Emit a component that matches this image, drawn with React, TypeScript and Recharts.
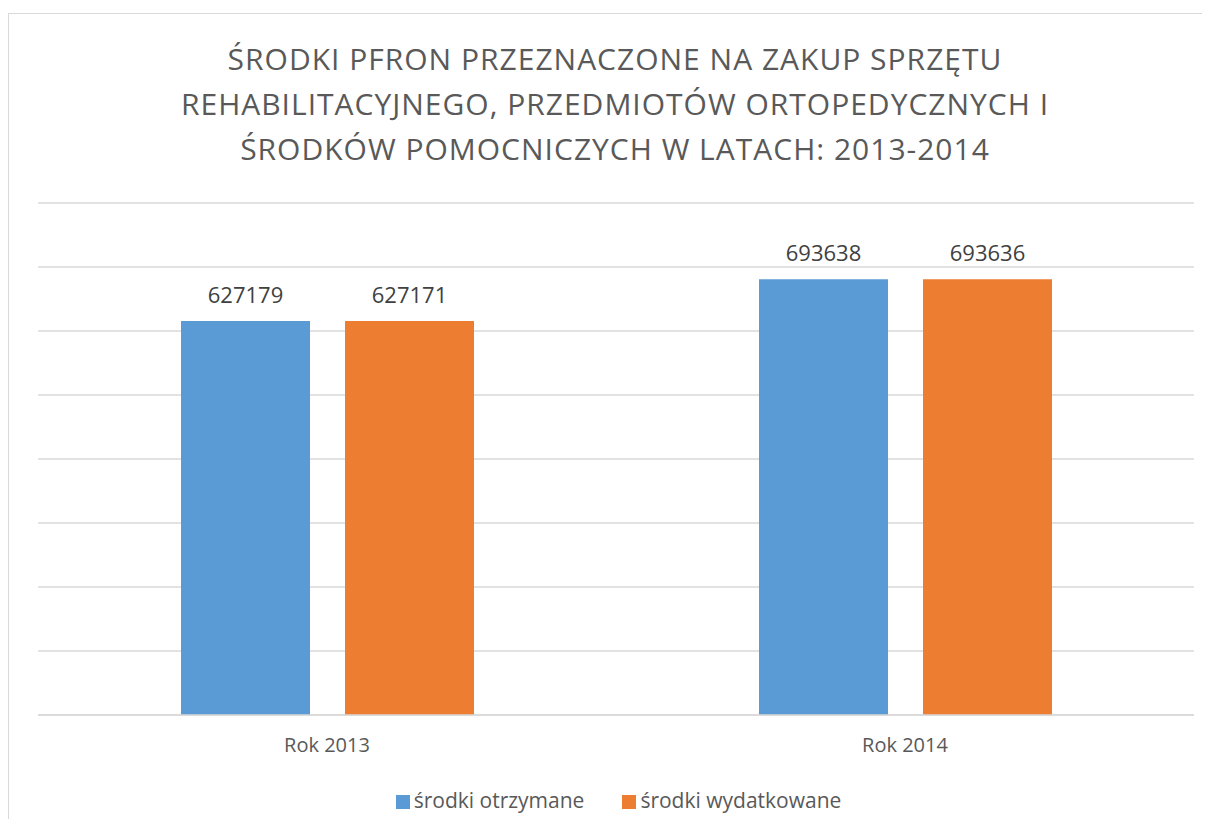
import React from 'react';
import { BarChart, Bar, XAxis, YAxis, CartesianGrid, LabelList } from 'recharts';

const categories = ['Rok 2013', 'Rok 2014'];
const otrzymane = [627179, 693638];
const wydatkowane = [627171, 693636];
const titleLines = [
  'ŚRODKI PFRON PRZEZNACZONE NA ZAKUP SPRZĘTU',
  'REHABILITACYJNEGO, PRZEDMIOTÓW ORTOPEDYCZNYCH I',
  'ŚRODKÓW POMOCNICZYCH W LATACH: 2013-2014',
];
const seriesNames = ['środki otrzymane', 'środki wydatkowane'];
const colors = ['#5B9BD5', '#ED7D31'];

const yMax = 815000;
const yTicks = Array.from({ length: 9 }, (_, i) => (yMax / 8) * i);

const data = categories.map((name, i) => ({
  name,
  otrzymane: otrzymane[i],
  wydatkowane: wydatkowane[i],
}));

const font = '"Open Sans", sans-serif';

export default function App() {
  return (
    <div
      style={{
        position: 'relative',
        top: 5,
        width: 1201,
        height: 810,
        borderTop: '1px solid #d9d9d9',
        borderLeft: '1px solid #d9d9d9',
        background: '#fff',
        fontFamily: font,
      }}
    >
      <div style={{ position: 'absolute', left: 0, top: 22, width: 1212, textAlign: 'center' }}>
        {titleLines.map((line) => (
          <div
            key={line}
            style={{ fontSize: 30, lineHeight: '45px', letterSpacing: 1, color: '#595959', whiteSpace: 'nowrap' }}
          >
            {line}
          </div>
        ))}
      </div>

      <BarChart
        width={1201}
        height={810}
        data={data}
        margin={{ top: 189, left: 29, right: 16, bottom: 69 }}
        barSize={129}
        barGap={35}
      >
        <CartesianGrid vertical={false} stroke="#d9d9d9" strokeWidth={1.5} />
        <XAxis
          xAxisId="bounds"
          type="number"
          domain={[0, 2]}
          ticks={[0, 1, 2]}
          allowDataOverflow
          height={0}
          axisLine={false}
          tick={false}
          tickSize={6}
          tickLine={{ stroke: '#d9d9d9', strokeWidth: 1.5 }}
        />
        <XAxis
          dataKey="name"
          height={40}
          axisLine={{ stroke: '#d9d9d9', strokeWidth: 1.5 }}
          tickLine={false}
          tickSize={0}
          tickMargin={23}
          tick={{ fill: '#595959', fontSize: 20, fontFamily: font }}
        />
        <YAxis hide domain={[0, yMax]} ticks={yTicks} />
        <Bar dataKey="otrzymane" name={seriesNames[0]} fill={colors[0]} isAnimationActive={false}>
          <LabelList dataKey="otrzymane" position="top" offset={18} fill="#404040" fontSize={22} fontFamily={font} />
        </Bar>
        <Bar dataKey="wydatkowane" name={seriesNames[1]} fill={colors[1]} isAnimationActive={false}>
          <LabelList dataKey="wydatkowane" position="top" offset={18} fill="#404040" fontSize={22} fontFamily={font} />
        </Bar>
      </BarChart>

      <div
        style={{
          position: 'absolute',
          left: 0,
          top: 773,
          width: 1219,
          display: 'flex',
          justifyContent: 'center',
          fontSize: 21,
          lineHeight: '26px',
          color: '#595959',
        }}
      >
        {seriesNames.map((s, i) => (
          <div key={s} style={{ display: 'flex', alignItems: 'center', marginLeft: i ? 38 : 0 }}>
            <span style={{ width: 14, height: 14, background: colors[i], marginRight: 4, marginTop: 3 }} />
            <span>{s}</span>
          </div>
        ))}
      </div>
    </div>
  );
}
